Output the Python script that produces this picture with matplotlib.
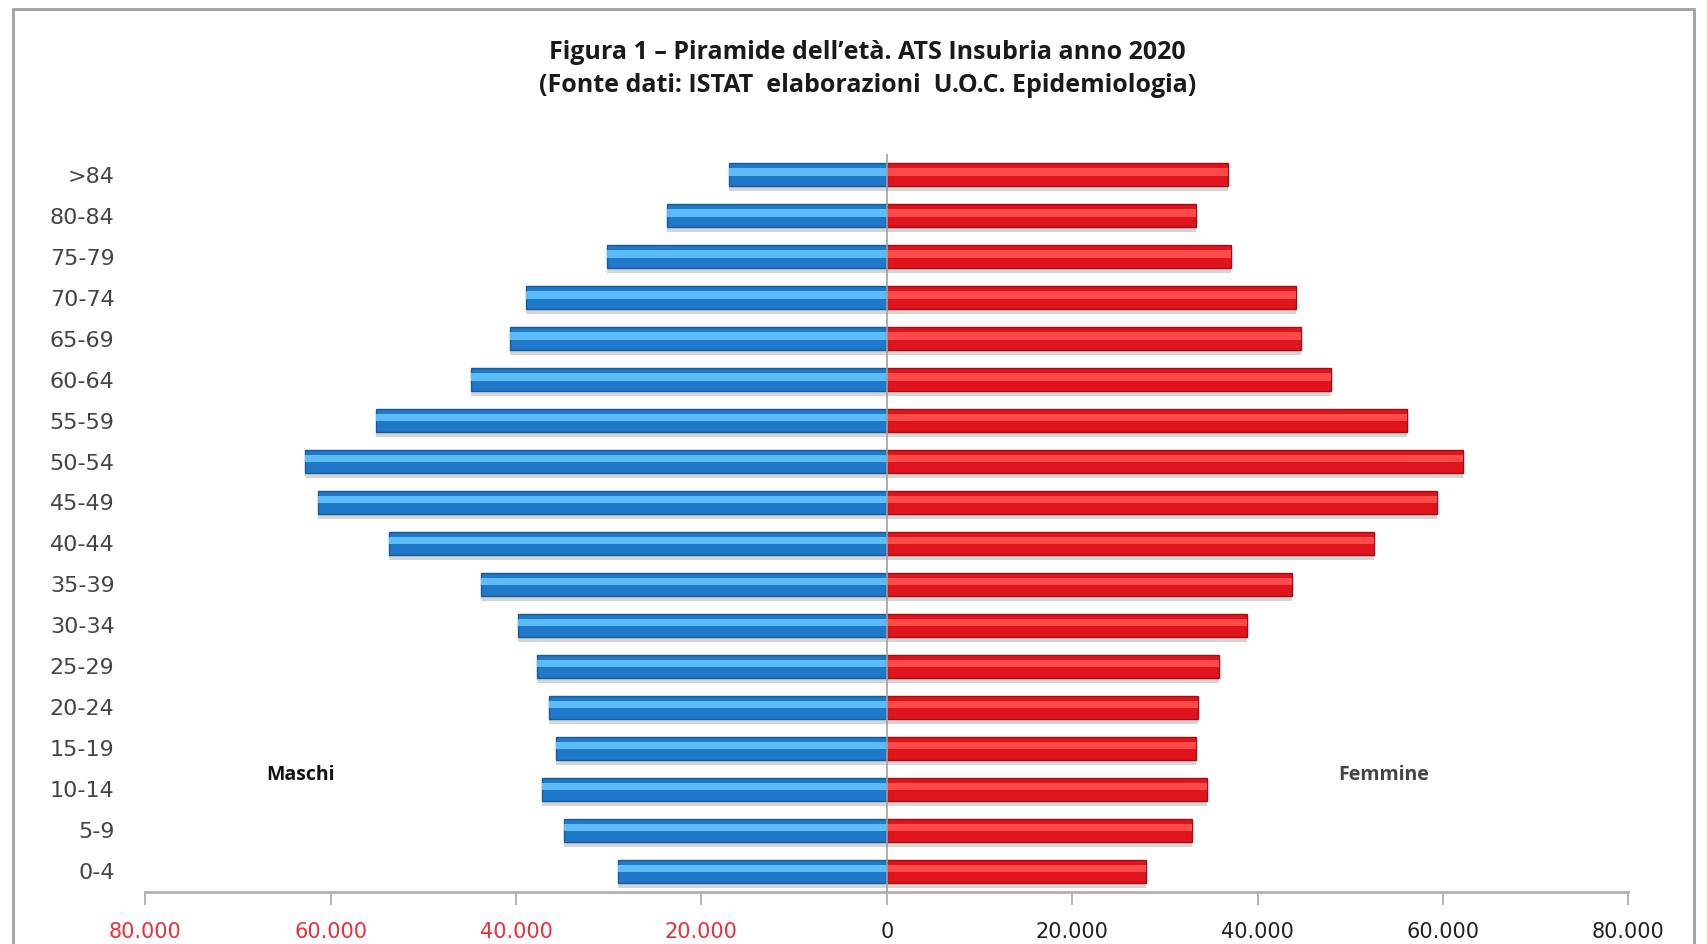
#!/usr/bin/env python3

import numpy as np
import matplotlib
matplotlib.use('Agg')
import matplotlib.pyplot as plt
from matplotlib.patches import Rectangle
from matplotlib.ticker import FuncFormatter

# === DATA ===
age_groups = ['0-4', '5-9', '10-14', '15-19', '20-24', '25-29', '30-34', '35-39',
              '40-44', '45-49', '50-54', '55-59', '60-64', '65-69', '70-74',
              '75-79', '80-84', '>84']
maschi = [29000, 34800, 37200, 35700, 36400, 37700, 39800, 43800,
          53700, 61300, 62700, 55100, 44900, 40600, 38900, 30200, 23700, 17000]
femmine = [28000, 32900, 34500, 33300, 33600, 35800, 38900, 43700,
           52500, 59400, 62100, 56100, 47900, 44700, 44100, 37100, 33300, 36800]
x_ticks = [-80000, -60000, -40000, -20000, 0, 20000, 40000, 60000, 80000]

title = ("Figura 1 \u2013 Piramide dell\u2019et\u00e0. ATS Insubria anno 2020\n"
         "(Fonte dati: ISTAT  elaborazioni  U.O.C. Epidemiologia)")

# === STYLE ===
blue = {'base': '#1f78c8', 'light': '#5bbcf7', 'edge': '#155a99'}
red = {'base': '#e0141c', 'light': '#ff4a4a', 'edge': '#a50d12'}
bar_h = 0.56

plt.rcParams['font.family'] = ['Open Sans', 'DejaVu Sans']

fig = plt.figure(figsize=(17.07, 9.44), dpi=100)
ax = fig.add_axes([0.085, 0.0555, 0.869, 0.781])

y = np.arange(len(age_groups))
neg_m = -np.array(maschi)
fem = np.array(femmine)

# shadow
ax.barh(y - 0.12, neg_m, height=bar_h, color='#d4d4d4', zorder=1)
ax.barh(y - 0.12, fem, height=bar_h, color='#d4d4d4', zorder=1)
# base bars
ax.barh(y, neg_m, height=bar_h, color=blue['base'], edgecolor=blue['edge'], linewidth=1, zorder=2)
ax.barh(y, fem, height=bar_h, color=red['base'], edgecolor=red['edge'], linewidth=1, zorder=2)
# highlight stripe (cylinder look)
ax.barh(y + bar_h * 0.12, neg_m, height=bar_h * 0.32, color=blue['light'], zorder=3)
ax.barh(y + bar_h * 0.12, fem, height=bar_h * 0.32, color=red['light'], zorder=3)

ax.axvline(0, color='#a0a0a0', linewidth=1.2, zorder=4)

ax.set_xlim(-80000, 80000)
ax.set_ylim(-0.5, len(age_groups) - 0.5)
ax.set_xticks(x_ticks)
ax.xaxis.set_major_formatter(FuncFormatter(lambda v, p: f"{abs(int(v)):,}".replace(',', '.')))
for lab, v in zip(ax.get_xticklabels(), x_ticks):
    lab.set_color('#e8303a' if v < 0 else '#222222')
    lab.set_fontfamily('DejaVu Sans')
ax.tick_params(axis='x', length=9, width=1.2, color='#a8a8a8', pad=13, labelsize=15)

ax.set_yticks(y)
ax.set_yticklabels(age_groups, color='#444444', fontsize=16, family='DejaVu Sans')
ax.tick_params(axis='y', length=0, pad=22)

for s in ['top', 'right', 'left']:
    ax.spines[s].set_visible(False)
ax.spines['bottom'].set_color('#b0b0b0')
ax.spines['bottom'].set_linewidth(2)

fig.text(0.508, 0.927, title, ha='center', va='center', fontsize=18,
         fontweight='bold', color='#1a1a1a', linespacing=1.45)
ax.text(-63200, 2.35, 'Maschi', ha='center', va='center', fontsize=14, fontweight='bold', color='#111111')
ax.text(53600, 2.35, 'Femmine', ha='center', va='center', fontsize=14, fontweight='bold', color='#444444')

# outer frame
fig.patches.append(Rectangle((0.0075, -0.05), 0.985, 1.04, transform=fig.transFigure,
                             fill=False, edgecolor='#a0a0a0', linewidth=2))

fig.savefig('out.png', dpi=100)
